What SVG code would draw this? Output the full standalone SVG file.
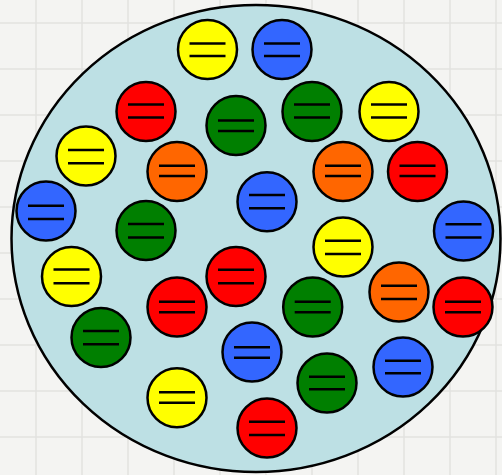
<svg xmlns="http://www.w3.org/2000/svg" width="502" height="475" viewBox="0 0 502 475">
<style>
.bg{fill:#f4f4f2}
.grid{stroke:#e2e2e0;stroke-width:1.5;fill:none}
.cell{fill:#bde0e4;stroke:#000;stroke-width:2.5}
.b circle{stroke:#000;stroke-width:2.5}
.b line{stroke:#000;stroke-width:2.6}
.y circle{fill:#ffff00}
.r circle{fill:#ff0000}
.g circle{fill:#007f00}
.u circle{fill:#3366ff}
.o circle{fill:#ff6600}
</style>
<rect class="bg" x="0" y="0" width="502" height="475"/>
<path class="grid" d="M36 0V475M82 0V475M128 0V475M174 0V475M220 0V475M266 0V475M312 0V475M358 0V475M404 0V475M450 0V475M496 0V475M0 23H502M0 69H502M0 115H502M0 161H502M0 207H502M0 253H502M0 299H502M0 345H502M0 391H502M0 437H502"/>
<g id="cell"><ellipse class="cell" cx="256" cy="238.5" rx="244.5" ry="233.5"/></g>
<g id="n1" class="b y"><circle cx="207.5" cy="49.5" r="29.5"/><line x1="189.5" y1="43.5" x2="225.5" y2="43.5"/><line x1="189.5" y1="56" x2="225.5" y2="56"/></g>
<g id="n2" class="b u"><circle cx="282" cy="49.5" r="29.5"/><line x1="264" y1="43.5" x2="300" y2="43.5"/><line x1="264" y1="56" x2="300" y2="56"/></g>
<g id="n3" class="b r"><circle cx="146" cy="111.5" r="29.5"/><line x1="128" y1="104.5" x2="164" y2="104.5"/><line x1="128" y1="117.5" x2="164" y2="117.5"/></g>
<g id="n4" class="b g"><circle cx="236" cy="125.5" r="29.5"/><line x1="218" y1="120.5" x2="254" y2="120.5"/><line x1="218" y1="131" x2="254" y2="131"/></g>
<g id="n5" class="b g"><circle cx="312" cy="111.5" r="29.5"/><line x1="294" y1="104.5" x2="330" y2="104.5"/><line x1="294" y1="117.5" x2="330" y2="117.5"/></g>
<g id="n6" class="b y"><circle cx="389" cy="111.5" r="29.5"/><line x1="371" y1="104.5" x2="407" y2="104.5"/><line x1="371" y1="117.5" x2="407" y2="117.5"/></g>
<g id="n7" class="b y"><circle cx="86" cy="156" r="29.5"/><line x1="68" y1="150" x2="104" y2="150"/><line x1="68" y1="163.3" x2="104" y2="163.3"/></g>
<g id="n8" class="b o"><circle cx="177" cy="171.5" r="29.5"/><line x1="159" y1="165.7" x2="195" y2="165.7"/><line x1="159" y1="176" x2="195" y2="176"/></g>
<g id="n9" class="b o"><circle cx="343" cy="171.5" r="29.5"/><line x1="325" y1="165.7" x2="361" y2="165.7"/><line x1="325" y1="176" x2="361" y2="176"/></g>
<g id="n10" class="b r"><circle cx="417.5" cy="171.5" r="29.5"/><line x1="399.5" y1="165.7" x2="435.5" y2="165.7"/><line x1="399.5" y1="176" x2="435.5" y2="176"/></g>
<g id="n11" class="b u"><circle cx="46" cy="211" r="29.5"/><line x1="28" y1="205.7" x2="64" y2="205.7"/><line x1="28" y1="219" x2="64" y2="219"/></g>
<g id="n12" class="b g"><circle cx="146" cy="230.5" r="29.5"/><line x1="128" y1="224" x2="164" y2="224"/><line x1="128" y1="237.5" x2="164" y2="237.5"/></g>
<g id="n13" class="b u"><circle cx="267" cy="201.7" r="29.5"/><line x1="249" y1="195" x2="285" y2="195"/><line x1="249" y1="208.3" x2="285" y2="208.3"/></g>
<g id="n14" class="b u"><circle cx="463.5" cy="231" r="29.5"/><line x1="445.5" y1="224.3" x2="481.5" y2="224.3"/><line x1="445.5" y1="237.5" x2="481.5" y2="237.5"/></g>
<g id="n15" class="b y"><circle cx="343" cy="247" r="29.5"/><line x1="325" y1="240.7" x2="361" y2="240.7"/><line x1="325" y1="254" x2="361" y2="254"/></g>
<g id="n16" class="b y"><circle cx="71.5" cy="276.5" r="29.5"/><line x1="53.5" y1="269.5" x2="89.5" y2="269.5"/><line x1="53.5" y1="283.3" x2="89.5" y2="283.3"/></g>
<g id="n17" class="b r"><circle cx="236" cy="276.5" r="29.5"/><line x1="218" y1="269.7" x2="254" y2="269.7"/><line x1="218" y1="283.3" x2="254" y2="283.3"/></g>
<g id="n18" class="b o"><circle cx="399" cy="292" r="29.5"/><line x1="381" y1="285.7" x2="417" y2="285.7"/><line x1="381" y1="299" x2="417" y2="299"/></g>
<g id="n19" class="b r"><circle cx="177" cy="307" r="29.5"/><line x1="159" y1="301.7" x2="195" y2="301.7"/><line x1="159" y1="312.3" x2="195" y2="312.3"/></g>
<g id="n20" class="b g"><circle cx="312.7" cy="307" r="29.5"/><line x1="294.7" y1="301.7" x2="330.7" y2="301.7"/><line x1="294.7" y1="312.3" x2="330.7" y2="312.3"/></g>
<g id="n21" class="b r"><circle cx="463" cy="307" r="29.5"/><line x1="445" y1="301.7" x2="481" y2="301.7"/><line x1="445" y1="312.3" x2="481" y2="312.3"/></g>
<g id="n22" class="b g"><circle cx="101" cy="337.5" r="29.5"/><line x1="83" y1="331" x2="119" y2="331"/><line x1="83" y1="344.3" x2="119" y2="344.3"/></g>
<g id="n23" class="b u"><circle cx="252" cy="352" r="29.5"/><line x1="234" y1="347.3" x2="270" y2="347.3"/><line x1="234" y1="357.7" x2="270" y2="357.7"/></g>
<g id="n24" class="b u"><circle cx="403" cy="367" r="29.5"/><line x1="385" y1="360.7" x2="421" y2="360.7"/><line x1="385" y1="373.3" x2="421" y2="373.3"/></g>
<g id="n25" class="b g"><circle cx="327" cy="383" r="29.5"/><line x1="309" y1="376.7" x2="345" y2="376.7"/><line x1="309" y1="389.3" x2="345" y2="389.3"/></g>
<g id="n26" class="b y"><circle cx="177" cy="397.7" r="29.5"/><line x1="159" y1="392.3" x2="195" y2="392.3"/><line x1="159" y1="402.7" x2="195" y2="402.7"/></g>
<g id="n27" class="b r"><circle cx="267" cy="428" r="29.5"/><line x1="249" y1="421.7" x2="285" y2="421.7"/><line x1="249" y1="435" x2="285" y2="435"/></g>
</svg>
